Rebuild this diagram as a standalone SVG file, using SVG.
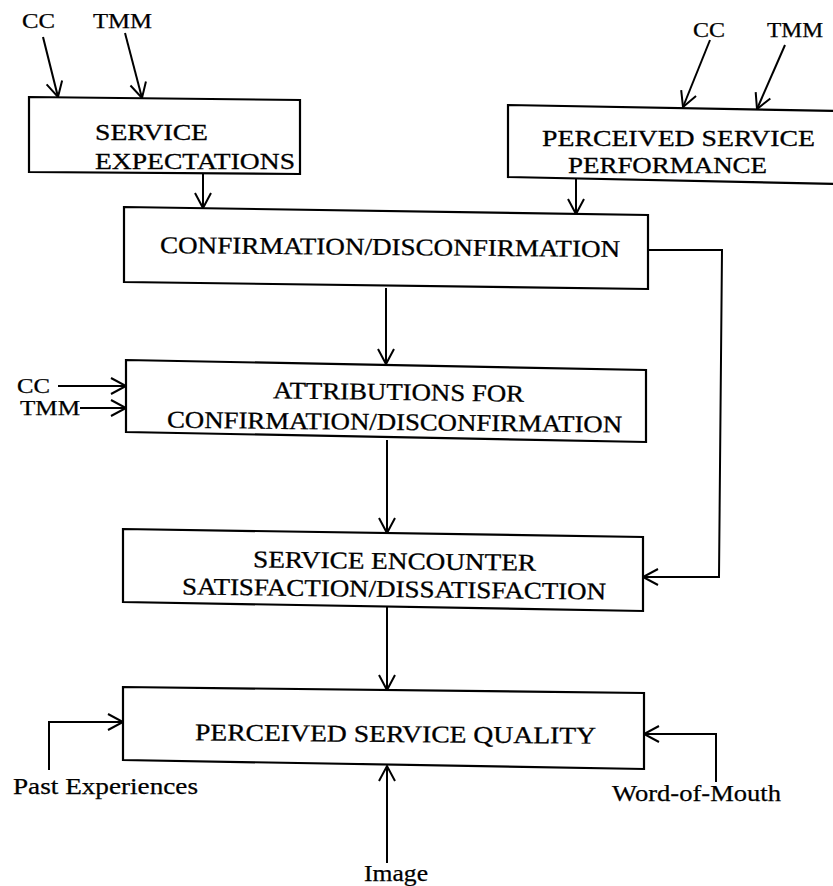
<svg xmlns="http://www.w3.org/2000/svg" width="833" height="886" viewBox="0 0 833 886">
<style>
.box{fill:#fff;stroke:#000;stroke-width:2.2;stroke-linejoin:miter}
.t{font-family:"Liberation Serif","Times New Roman",serif;font-size:24px;fill:#000;stroke:#000;stroke-width:0.3}
.l{font-family:"Liberation Serif","Times New Roman",serif;font-size:21px;fill:#000;stroke:#000;stroke-width:0.25}
.c{fill:none;stroke:#000;stroke-width:2;marker-end:url(#ah)}
</style>
<defs>
<marker id="ah" markerUnits="userSpaceOnUse" markerWidth="30" markerHeight="30" refX="0" refY="0" viewBox="-20 -15 30 30" orient="auto" overflow="visible">
<path d="M-15,-8 L0,0 L-15,8" fill="none" stroke="#000" stroke-width="2"/>
</marker>
</defs>
<rect width="833" height="886" fill="#fff"/>
<g id="connectors">
<path class="c" d="M43,37 L58,97"/>
<path class="c" d="M125,33 L142,98"/>
<path class="c" d="M203,174 L203,208"/>
<path class="c" d="M576,178 L576,214"/>
<path class="c" d="M710,40 L683,107"/>
<path class="c" d="M785,45 L757,109"/>
<path class="c" d="M386,288 L386,364"/>
<path class="c" d="M58,386 L126,386"/>
<path class="c" d="M80,408 L126,408"/>
<path class="c" d="M387,440 L387,533"/>
<path class="c" d="M648,250 L722,250 L719,577 L643,577"/>
<path class="c" d="M387,607 L387,690"/>
<path class="c" d="M49,770 L49,722 L123,722"/>
<path class="c" d="M387,863 L387,766"/>
<path class="c" d="M716,782 L716,734 L644,734"/>
</g>
<g id="service-expectations">
<polygon class="box" points="29,97 300,100 300,174 29,172"/>
<text class="t" x="95" y="140" textLength="113" lengthAdjust="spacingAndGlyphs">SERVICE</text>
<text class="t" x="95" y="169" textLength="200" lengthAdjust="spacingAndGlyphs">EXPECTATIONS</text>
</g>
<g id="perceived-service-performance">
<polygon class="box" points="508,105 840,111 840,184 508,177"/>
<text class="t" x="542" y="146" textLength="273" lengthAdjust="spacingAndGlyphs">PERCEIVED SERVICE</text>
<text class="t" x="568" y="173" textLength="199" lengthAdjust="spacingAndGlyphs">PERFORMANCE</text>
</g>
<g id="confirmation">
<polygon class="box" points="124,207 648,215 648,289 124,282"/>
<text class="t" x="160" y="255" textLength="460" lengthAdjust="spacingAndGlyphs" transform="rotate(0.5 390 255)">CONFIRMATION/DISCONFIRMATION</text>
</g>
<g id="attributions">
<polygon class="box" points="126,360 646,370 646,442 126,432"/>
<text class="t" x="273" y="400" textLength="251" lengthAdjust="spacingAndGlyphs" transform="rotate(0.8 398 399)">ATTRIBUTIONS FOR</text>
<text class="t" x="167" y="430" textLength="455" lengthAdjust="spacingAndGlyphs" transform="rotate(0.6 394 429)">CONFIRMATION/DISCONFIRMATION</text>
</g>
<g id="satisfaction">
<polygon class="box" points="123,529 643,537 643,611 123,602"/>
<text class="t" x="253" y="569" textLength="283" lengthAdjust="spacingAndGlyphs" transform="rotate(0.7 394 568)">SERVICE ENCOUNTER</text>
<text class="t" x="182" y="597" textLength="424" lengthAdjust="spacingAndGlyphs" transform="rotate(0.7 394 596)">SATISFACTION/DISSATISFACTION</text>
</g>
<g id="perceived-service-quality">
<polygon class="box" points="123,687 644,693 644,769 123,760"/>
<text class="t" x="195" y="742" textLength="401" lengthAdjust="spacingAndGlyphs" transform="rotate(0.5 395 741)">PERCEIVED SERVICE QUALITY</text>
</g>
<g id="labels">
<text class="l" x="22" y="28" textLength="33" lengthAdjust="spacingAndGlyphs">CC</text>
<text class="l" x="93" y="28" textLength="59" lengthAdjust="spacingAndGlyphs">TMM</text>
<text class="l" x="693" y="37" textLength="32" lengthAdjust="spacingAndGlyphs">CC</text>
<text class="l" x="767" y="37" textLength="56" lengthAdjust="spacingAndGlyphs">TMM</text>
<text class="l" x="17" y="393" textLength="33" lengthAdjust="spacingAndGlyphs">CC</text>
<text class="l" x="20" y="415" textLength="60" lengthAdjust="spacingAndGlyphs">TMM</text>
<text class="l" x="13" y="794" textLength="185" lengthAdjust="spacingAndGlyphs" style="font-size:23px">Past Experiences</text>
<text class="l" x="364" y="881" textLength="64" lengthAdjust="spacingAndGlyphs" style="font-size:23px">Image</text>
<text class="l" x="612" y="801" textLength="169" lengthAdjust="spacingAndGlyphs" style="font-size:23px">Word-of-Mouth</text>
</g>
</svg>
